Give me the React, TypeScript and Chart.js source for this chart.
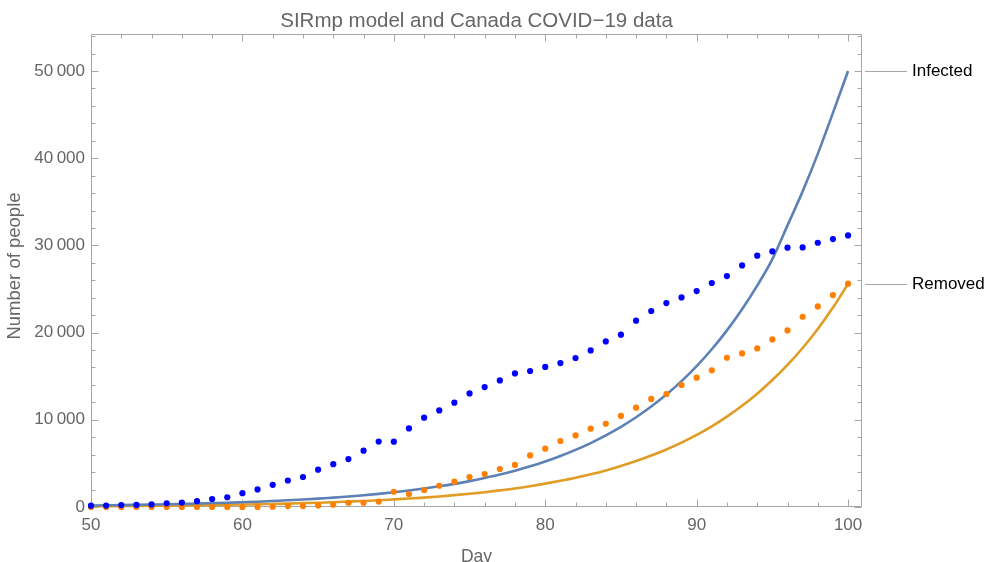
import React, { useEffect, useRef } from 'react';
import { Chart, registerables } from 'chart.js';

Chart.register(...registerables);

const days = [50, 51, 52, 53, 54, 55, 56, 57, 58, 59, 60, 61, 62, 63, 64, 65, 66, 67, 68, 69, 70, 71, 72, 73, 74, 75, 76, 77, 78, 79, 80, 81, 82, 83, 84, 85, 86, 87, 88, 89, 90, 91, 92, 93, 94, 95, 96, 97, 98, 99, 100];

const infectedData = [150, 160, 220, 240, 300, 420, 510, 670, 920, 1120, 1580, 2020, 2540, 3040, 3440, 4280, 4910, 5500, 6460, 7500, 7490, 9010, 10240, 11080, 11960, 13030, 13760, 14520, 15320, 15600, 16060, 16510, 17090, 17960, 18990, 19760, 21370, 22480, 23390, 24040, 24770, 25690, 26490, 27710, 28820, 29310, 29740, 29770, 30310, 30730, 31150];

const removedData = [0, 0, 0, 0, 0, 0, 0, 0, 0, 0, 0, 0, 30, 110, 110, 180, 260, 490, 490, 620, 1750, 1490, 1950, 2440, 2900, 3440, 3780, 4360, 4820, 5920, 6690, 7570, 8210, 8980, 9550, 10450, 11390, 12390, 12960, 13990, 14830, 15670, 17120, 17610, 18190, 19220, 20250, 21820, 23000, 24310, 25610];

const infectedModel = [180, 200, 220, 250, 280, 310, 350, 390, 440, 490, 550, 610, 690, 770, 860, 960, 1080, 1200, 1350, 1510, 1690, 1890, 2120, 2370, 2650, 2970, 3330, 3720, 4170, 4670, 5220, 5850, 6550, 7330, 8210, 9190, 10290, 11520, 12890, 14440, 16160, 18090, 20260, 22680, 25390, 28430, 32300, 36200, 40500, 45200, 50000];

const removedModel = [90, 100, 110, 130, 140, 160, 180, 200, 220, 250, 280, 310, 350, 390, 440, 490, 550, 620, 690, 770, 870, 970, 1080, 1210, 1360, 1520, 1700, 1910, 2130, 2390, 2680, 3000, 3350, 3750, 4200, 4710, 5270, 5900, 6600, 7390, 8270, 9260, 10370, 11610, 13000, 14560, 16290, 18240, 20420, 22870, 25600];

const xTickValues = [50, 60, 70, 80, 90, 100];
const yTickValues = [0, 10000, 20000, 30000, 40000, 50000];

const chartTitle = 'SIRmp model and Canada COVID\u221219 data';
const xTitle = 'Day';
const yTitle = 'Number of people';
const seriesLabels = ['Infected', 'Removed'];

const FONT = "'Liberation Sans', Arial, Helvetica, sans-serif";
const W = 985;
const H = 562;

const fmt = (v: number) => {
  const s = String(Math.round(v));
  if (s.length < 5) return s;
  return s.replace(/\B(?=(\d{3})+(?!\d))/g, '\u2009');
};

const toXY = (vals: number[]) => days.map((d, i) => ({ x: d, y: vals[i] }));

const framePlugin = {
  id: 'mmaFrame',
  beforeDatasetsDraw(chart: any) {
    const { ctx, chartArea: a, scales } = chart;
    const x = scales.x;
    const y = scales.y;
    const L = Math.round(a.left) + 0.5;
    const R = Math.round(a.right) - 0.5;
    const T = Math.round(a.top) + 0.5;
    const B = Math.round(a.bottom) - 0.5;
    ctx.save();
    ctx.strokeStyle = '#a6a6a6';
    ctx.lineWidth = 1;
    ctx.beginPath();
    ctx.rect(L, T, R - L, B - T);
    ctx.stroke();
    ctx.beginPath();
    for (let v = 50; v <= x.max; v += 2) {
      const px = Math.round(x.getPixelForValue(v)) + 0.5;
      const len = v % 10 === 0 ? 7 : 4;
      ctx.moveTo(px, B);
      ctx.lineTo(px, B - len);
      ctx.moveTo(px, T);
      ctx.lineTo(px, T + len);
    }
    for (let v = 0; v <= y.max; v += 2000) {
      const py = Math.round(y.getPixelForValue(v)) + 0.5;
      const len = v % 10000 === 0 ? 7 : 4;
      ctx.moveTo(L, py);
      ctx.lineTo(L + len, py);
      ctx.moveTo(R, py);
      ctx.lineTo(R - len, py);
    }
    ctx.stroke();
    ctx.restore();
  },
  afterDraw(chart: any) {
    const { ctx, chartArea: a, scales } = chart;
    const y = scales.y;
    const cx = (a.left + a.right) / 2;
    ctx.save();
    // title
    ctx.fillStyle = '#666666';
    ctx.font = `20.5px ${FONT}`;
    ctx.textAlign = 'center';
    ctx.textBaseline = 'alphabetic';
    ctx.fillText(chartTitle, cx, 27);
    // x title
    ctx.font = `17.5px ${FONT}`;
    ctx.fillText(xTitle, cx, 562);
    // y title
    ctx.save();
    ctx.font = `18.5px ${FONT}`;
    ctx.translate(15, 266);
    ctx.rotate(-Math.PI / 2);
    ctx.textBaseline = 'middle';
    ctx.fillText(yTitle, 0, 0);
    ctx.restore();
    // right labels
    const ends = [infectedModel[infectedModel.length - 1], removedModel[removedModel.length - 1]];
    ctx.font = `17px ${FONT}`;
    ctx.strokeStyle = '#a6a6a6';
    ctx.lineWidth = 1;
    ctx.fillStyle = '#000000';
    ctx.textAlign = 'left';
    ctx.textBaseline = 'middle';
    ends.forEach((v, i) => {
      const py = Math.round(y.getPixelForValue(v)) + 0.5;
      ctx.beginPath();
      ctx.moveTo(Math.round(a.right) + 3, py);
      ctx.lineTo(Math.round(a.right) + 45, py);
      ctx.stroke();
      ctx.fillText(seriesLabels[i], Math.round(a.right) + 50, py);
    });
    ctx.restore();
  },
};

export default function App() {
  const ref = useRef<HTMLCanvasElement | null>(null);

  useEffect(() => {
    if (!ref.current) return;
    const chart = new Chart(ref.current, {
      type: 'scatter',
      data: {
        datasets: [
          {
            label: 'Infected data',
            data: toXY(infectedData),
            showLine: false,
            pointRadius: 3.1,
            pointHoverRadius: 3.1,
            pointBorderWidth: 0,
            pointBackgroundColor: '#0000ff',
            borderColor: '#0000ff',
            clip: false,
            order: 0,
          },
          {
            label: 'Removed data',
            data: toXY(removedData),
            showLine: false,
            pointRadius: 3.1,
            pointHoverRadius: 3.1,
            pointBorderWidth: 0,
            pointBackgroundColor: '#ff7f00',
            borderColor: '#ff7f00',
            clip: false,
            order: 1,
          },
          {
            label: seriesLabels[0],
            data: toXY(infectedModel),
            showLine: true,
            pointRadius: 0,
            borderColor: '#5e81b5',
            borderWidth: 2.6,
            cubicInterpolationMode: 'monotone',
            clip: false,
            order: 2,
          },
          {
            label: seriesLabels[1],
            data: toXY(removedModel),
            showLine: true,
            pointRadius: 0,
            borderColor: '#e09c24',
            borderWidth: 2.6,
            cubicInterpolationMode: 'monotone',
            clip: false,
            order: 3,
          },
        ],
      },
      options: {
        responsive: false,
        animation: false,
        devicePixelRatio: 1,
        layout: { padding: { left: 0, right: 123, top: 34, bottom: 0 } },
        plugins: {
          legend: { display: false },
          title: { display: false },
          tooltip: { enabled: false },
        },
        scales: {
          x: {
            type: 'linear',
            min: 50,
            max: 100.92,
            grid: { display: false, drawTicks: false },
            border: { display: false },
            afterBuildTicks: (s: any) => {
              s.ticks = xTickValues.map((v) => ({ value: v }));
            },
            afterFit: (s: any) => {
              s.height = 55;
            },
            ticks: {
              autoSkip: false,
              maxRotation: 0,
              padding: 8,
              color: '#666666',
              font: { family: FONT, size: 17 },
              callback: (v: any) => String(v),
            },
          },
          y: {
            type: 'linear',
            min: 0,
            max: 54250,
            grid: { display: false, drawTicks: false },
            border: { display: false },
            afterBuildTicks: (s: any) => {
              s.ticks = yTickValues.map((v) => ({ value: v }));
            },
            afterFit: (s: any) => {
              s.width = 91;
            },
            ticks: {
              autoSkip: false,
              padding: 6,
              color: '#666666',
              font: { family: FONT, size: 17 },
              callback: (v: any) => fmt(Number(v)),
            },
          },
        },
      },
      plugins: [framePlugin],
    } as any);
    return () => chart.destroy();
  }, []);

  return (
    <div style={{ position: 'absolute', left: 0, top: 0, width: W, height: H, background: '#ffffff' }}>
      <canvas ref={ref} width={W} height={H} style={{ display: 'block', width: W, height: H }} />
    </div>
  );
}
